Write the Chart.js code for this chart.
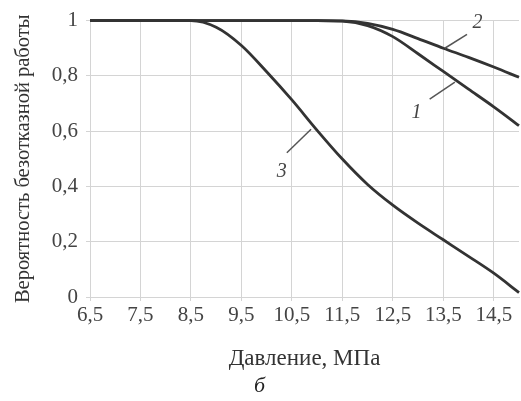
<!DOCTYPE html>
<html>
<head>
<meta charset="utf-8">
<script src="https://cdn.jsdelivr.net/npm/chart.js@4/dist/chart.umd.min.js"></script>
<style>
  html, body { margin: 0; padding: 0; background: #fff; }
  #wrap { width: 521px; height: 401px; }
</style>
</head>
<body>
<div id="wrap"><canvas id="chart" width="521" height="401"></canvas></div>
<script>
// pressure, MPa
const pressure = [6.5, 7, 7.5, 8, 8.5, 9, 9.5, 10, 10.5, 11, 11.5, 12, 12.5, 13, 13.5, 14, 14.5, 15];
// reliability for curves 1, 2, 3
const curve1 = [1, 1, 1, 1, 1, 1, 1, 1, 1, 1, 0.998, 0.982, 0.942, 0.88, 0.816, 0.752, 0.688, 0.62];
const curve2 = [1, 1, 1, 1, 1, 1, 1, 1, 1, 1, 0.999, 0.99, 0.968, 0.935, 0.90, 0.867, 0.832, 0.795];
const curve3 = [1, 1, 1, 1, 1, 0.976, 0.91, 0.815, 0.713, 0.603, 0.499, 0.407, 0.332, 0.267, 0.207, 0.147, 0.086, 0.016];

const xTicks = [6.5, 7.5, 8.5, 9.5, 10.5, 11.5, 12.5, 13.5, 14.5];
const yTicks = [0, 0.2, 0.4, 0.6, 0.8, 1];

// curve labels: point on curve, end of leader, text position (data units)
const curveLabels = [
  { text: '1', at: [13.73, 0.777], end: [13.23, 0.716], pos: [12.97, 0.668] },
  { text: '2', at: [13.53, 0.90], end: [13.97, 0.95], pos: [14.18, 0.993] },
  { text: '3', at: [10.88, 0.607], end: [10.40, 0.522], pos: [10.30, 0.453] }
];

const lineColor = '#333';
const gridColor = '#d4d4d4';
const textColor = '#444';
const serif = "'Liberation Serif', 'DejaVu Serif', serif";

function toPoints(ys) {
  return pressure.map((x, i) => ({ x: x, y: ys[i] }));
}

function commaNum(v) {
  if (v === 0 || v === 1) return String(v);
  return (Math.round(v * 10) / 10).toString().replace('.', ',');
}

const labelPlugin = {
  id: 'curveLabels',
  afterDatasetsDraw(chart) {
    const ctx = chart.ctx;
    const xs = chart.scales.x, ys = chart.scales.y;
    ctx.save();
    curveLabels.forEach(l => {
      ctx.beginPath();
      ctx.strokeStyle = '#555';
      ctx.lineWidth = 1.5;
      ctx.moveTo(xs.getPixelForValue(l.at[0]), ys.getPixelForValue(l.at[1]));
      ctx.lineTo(xs.getPixelForValue(l.end[0]), ys.getPixelForValue(l.end[1]));
      ctx.stroke();
      ctx.fillStyle = textColor;
      ctx.font = "italic 20px " + serif;
      ctx.textAlign = 'center';
      ctx.textBaseline = 'middle';
      ctx.fillText(l.text, xs.getPixelForValue(l.pos[0]), ys.getPixelForValue(l.pos[1]));
    });
    ctx.restore();
  }
};

function makeSet(ys) {
  return {
    data: toPoints(ys),
    borderColor: lineColor,
    borderWidth: 2.8,
    pointRadius: 0,
    fill: false,
    cubicInterpolationMode: 'monotone',
    clip: false
  };
}

new Chart(document.getElementById('chart'), {
  type: 'line',
  data: {
    datasets: [makeSet(curve1), makeSet(curve2), makeSet(curve3)]
  },
  options: {
    responsive: false,
    animation: false,
    layout: { padding: { left: 0, right: 2, top: 19, bottom: 0 } },
    plugins: {
      legend: { display: false },
      tooltip: { enabled: false },
      title: {
        display: true,
        position: 'bottom',
        text: 'б',
        color: '#222',
        font: { family: serif, size: 22, style: 'italic', weight: 'normal' },
        padding: { top: 0, bottom: 2 }
      }
    },
    scales: {
      x: {
        type: 'linear',
        min: 6.5,
        max: 15,
        afterBuildTicks: scale => { scale.ticks = xTicks.map(v => ({ value: v })); },
        afterFit: scale => { scale.height = 75.6; },
        grid: { color: gridColor, tickLength: 4, tickColor: gridColor },
        border: { color: gridColor },
        ticks: {
          color: textColor,
          padding: 2,
          maxRotation: 0,
          font: { family: serif, size: 21 },
          callback: v => commaNum(v)
        },
        title: {
          display: true,
          text: 'Давление, МПа',
          color: '#333',
          font: { family: serif, size: 23 },
          padding: { top: 0, bottom: 0 }
        }
      },
      y: {
        min: 0,
        max: 1,
        afterBuildTicks: scale => { scale.ticks = yTicks.map(v => ({ value: v })); },
        afterFit: scale => { scale.width = 90; },
        grid: { color: gridColor, tickLength: 4, tickColor: gridColor },
        border: { color: gridColor },
        ticks: {
          color: textColor,
          padding: 8,
          font: { family: serif, size: 21 },
          callback: v => commaNum(v)
        },
        title: {
          display: true,
          text: 'Вероятность безотказной работы',
          color: '#333',
          font: { family: serif, size: 20.5 },
          padding: { top: 11, bottom: 0 }
        }
      }
    }
  },
  plugins: [labelPlugin]
});
</script>
</body>
</html>
